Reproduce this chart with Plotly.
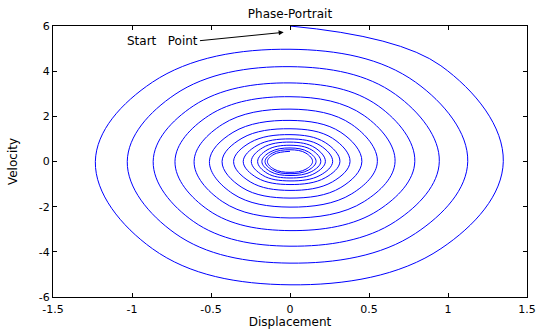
import plotly.graph_objects as go

# Axis crossings of the spiral (clockwise, starting at the top)
top_v = [6.0, 4.97, 4.2, 3.48, 2.87, 2.32, 1.82, 1.45, 1.19, 1.0, 0.86, 0.72, 0.6, 0.52, 0.45]
right_x = [1.35, 1.125, 0.945, 0.79, 0.665, 0.553, 0.455, 0.38, 0.316, 0.27, 0.224, 0.195, 0.165, 0.143]
bottom_v = [-5.46, -4.5, -3.75, -3.06, -2.5, -2.02, -1.62, -1.28, -1.02, -0.86, -0.73, -0.62, -0.54, -0.48]
left_x = [-1.232, -1.03, -0.866, -0.728, -0.607, -0.51, -0.43, -0.357, -0.296, -0.245, -0.205, -0.178, -0.158, -0.143]

# Diagonal points of each loop
upper_right_x = [0.955, 0.795, 0.668, 0.559, 0.47, 0.391, 0.322, 0.269, 0.223, 0.191, 0.158, 0.138, 0.117, 0.101]
upper_right_v = [4.24, 3.51, 2.97, 2.46, 2.03, 1.64, 1.29, 1.03, 0.84, 0.71, 0.61, 0.51, 0.42, 0.37]
lower_right_x = [0.955, 0.795, 0.668, 0.559, 0.47, 0.391, 0.322, 0.269, 0.223, 0.191, 0.158, 0.138, 0.117, 0.101]
lower_right_v = [-3.86, -3.18, -2.65, -2.16, -1.77, -1.43, -1.15, -0.9, -0.72, -0.61, -0.52, -0.44, -0.38, -0.34]
lower_left_x = [-0.871, -0.728, -0.612, -0.515, -0.429, -0.361, -0.304, -0.252, -0.209, -0.173, -0.145, -0.126, -0.112, -0.101]
lower_left_v = [-3.86, -3.18, -2.65, -2.16, -1.77, -1.43, -1.15, -0.9, -0.72, -0.61, -0.52, -0.44, -0.38, -0.34]
upper_left_x = [-0.871, -0.728, -0.612, -0.515, -0.429, -0.361, -0.304, -0.252, -0.209, -0.173, -0.145, -0.126, -0.112, -0.101]
upper_left_v = [3.51, 2.97, 2.46, 2.03, 1.64, 1.29, 1.03, 0.84, 0.71, 0.61, 0.51, 0.42, 0.37, 0.32]

x_ticks = [-1.5, -1, -0.5, 0, 0.5, 1, 1.5]
x_ticktext = ["-1.5", "-1", "-0.5", "0", "0.5", "1", "1.5"]
y_ticks = [-6, -4, -2, 0, 2, 4, 6]
y_ticktext = ["-6", "-4", "-2", "0", "2", "4", "6"]

xs, ys = [], []
for k in range(len(right_x)):
    xs += [0, upper_right_x[k], right_x[k], lower_right_x[k], 0, lower_left_x[k], left_x[k], upper_left_x[k]]
    ys += [top_v[k], upper_right_v[k], 0, lower_right_v[k], bottom_v[k], lower_left_v[k], 0, upper_left_v[k]]
xs.append(0)
ys.append(top_v[len(right_x)])

fig = go.Figure()
fig.add_trace(go.Scatter(x=xs, y=ys, mode="lines",
                         line=dict(color="#0000ff", width=1, shape="spline", smoothing=1.12),
                         showlegend=False, hoverinfo="skip"))

font = dict(family="DejaVu Sans, Liberation Sans, sans-serif", size=12, color="black")
tick_font = dict(family="DejaVu Sans, Liberation Sans, sans-serif", size=11, color="black")

fig.add_annotation(x=-0.04, y=5.72, ax=-0.57, ay=5.35, xref="x", yref="y", axref="x", ayref="y",
                   text="Start\u00a0\u00a0\u00a0Point", showarrow=True, arrowhead=2, arrowsize=1,
                   arrowwidth=1, arrowcolor="black", xanchor="right", font=font)

axis_common = dict(showline=True, linecolor="black", linewidth=1, mirror="ticks",
                   ticks="inside", ticklen=4, tickcolor="black", showgrid=False, zeroline=False,
                   tickfont=tick_font, automargin=False)

fig.update_layout(
    width=545, height=329,
    margin=dict(l=53, r=18, t=26, b=32),
    paper_bgcolor="white", plot_bgcolor="white",
    font=font,
    title=dict(text="Phase-Portrait", x=0.5, xref="paper", xanchor="center",
               y=1, yref="paper", yanchor="bottom", pad=dict(b=8), font=font),
    xaxis=dict(range=[-1.5, 1.5], tickvals=x_ticks, ticktext=x_ticktext, ticklabelstandoff=2,
               title=dict(text="Displacement", standoff=2, font=font), **axis_common),
    yaxis=dict(range=[-6, 6], tickvals=y_ticks, ticktext=y_ticktext,
               title=dict(text="Velocity", standoff=18, font=font), **axis_common),
)

fig.write_html("out.html")
